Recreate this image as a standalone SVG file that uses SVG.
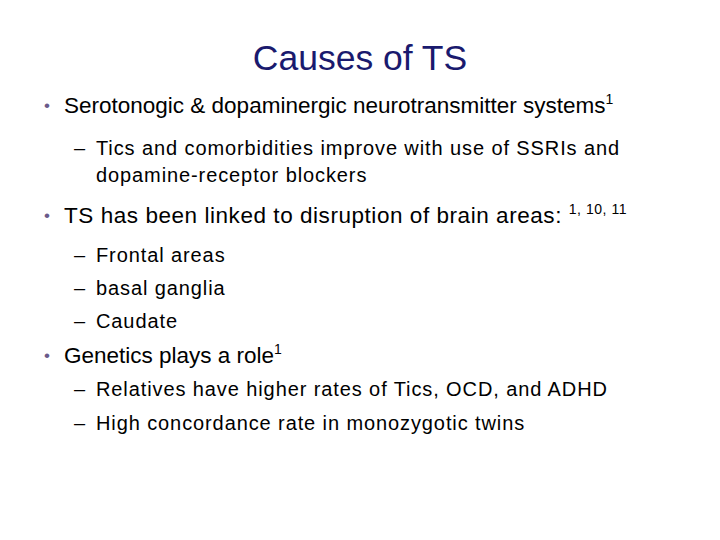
<svg xmlns="http://www.w3.org/2000/svg" width="720" height="540" viewBox="0 0 720 540">
<style>
text{font-family:"Liberation Sans",Arial,sans-serif;fill:#000}
.t{font-size:35.5px;fill:#1a1a6e}
.b{font-size:22.5px}
.s{font-size:20px;letter-spacing:0.9px}
.bul{font-size:17px;fill:#6a5a8a}
.sup{font-size:14px}
</style>
<rect width="720" height="540" fill="#fff"/>
<text class="t" x="360" y="70" text-anchor="middle">Causes of TS</text>
<text class="bul" x="44" y="111">•</text>
<text class="b" x="64" y="113">Serotonogic &amp; dopaminergic neurotransmitter systems<tspan class="sup" dy="-9">1</tspan></text>
<text class="s" x="74" y="155">–</text>
<text class="s" x="96" y="155">Tics and comorbidities improve with use of SSRIs and</text>
<text class="s" x="96" y="182">dopamine-receptor blockers</text>
<text class="bul" x="44" y="221">•</text>
<text class="b" x="64" y="223" letter-spacing="0.55">TS has been linked to disruption of brain areas: <tspan class="sup" dy="-9">1, 10, 11</tspan></text>
<text class="s" x="74" y="262">–</text>
<text class="s" x="96" y="262">Frontal areas</text>
<text class="s" x="74" y="295">–</text>
<text class="s" x="96" y="295">basal ganglia</text>
<text class="s" x="74" y="328">–</text>
<text class="s" x="96" y="328">Caudate</text>
<text class="bul" x="44" y="361">•</text>
<text class="b" x="64" y="363">Genetics plays a role<tspan class="sup" dy="-9">1</tspan></text>
<text class="s" x="74" y="396">–</text>
<text class="s" x="96" y="396">Relatives have higher rates of Tics, OCD, and ADHD</text>
<text class="s" x="74" y="430">–</text>
<text class="s" x="96" y="430">High concordance rate in monozygotic twins</text>
</svg>
